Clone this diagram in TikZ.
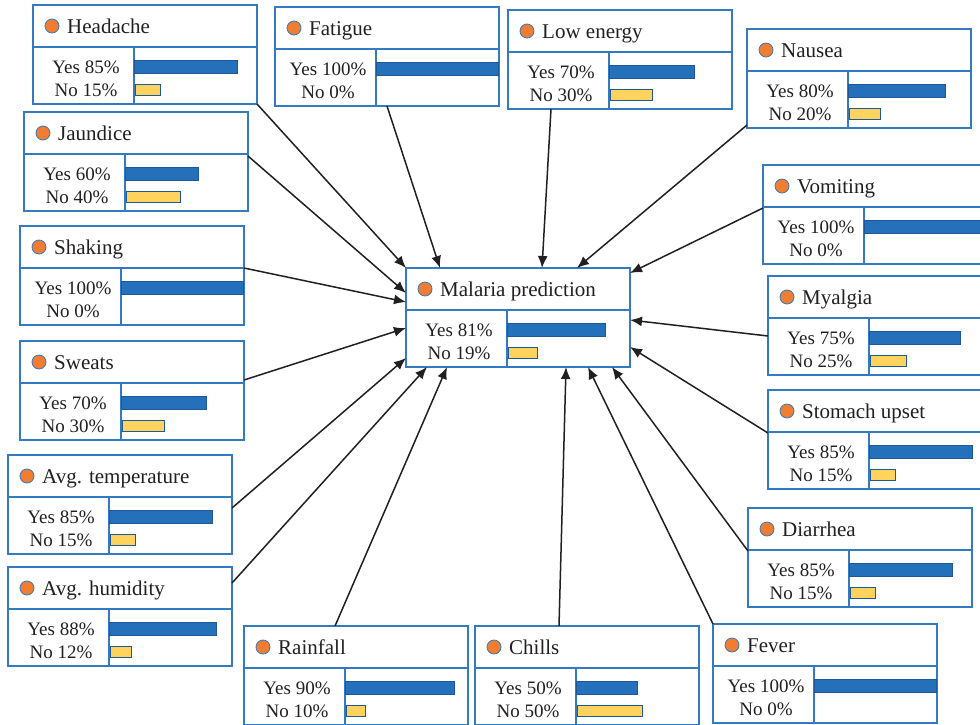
\documentclass[tikz,border=0pt]{standalone}
\usepackage{fontspec}
\setmainfont{Liberation Serif}
\usepackage{xcolor}
\usepackage{tikz}
\usetikzlibrary{arrows.meta, positioning}

\definecolor{boxblue}{RGB}{52,122,192}
\definecolor{baryes}{RGB}{36,112,186}
\definecolor{baryesline}{RGB}{30,88,150}
\definecolor{barno}{RGB}{255,211,94}
\definecolor{dotorange}{RGB}{240,125,50}
\definecolor{inkgray}{RGB}{35,31,32}

% #1 name, #2 x, #3 y (top left), #4 title, #5 yes, #6 no
\newcommand{\factorbox}[6]{%
  \node[factor] (#1) at (#2,#3) {};
  \draw[border] ([yshift=-42pt]#1.north west) -- ([yshift=-42pt]#1.north east);
  \draw[border] ([xshift=101pt,yshift=-42pt]#1.north west) -- ([xshift=101pt]#1.south west);
  \node[dot] (#1-dot) at ([xshift=19pt,yshift=-21pt]#1.north west) {};
  \node[ttl] (#1-ttl) at ([xshift=34pt,yshift=-28pt]#1.north west) {#4};
  \node[val] (#1-yes) at ([xshift=53pt,yshift=-68pt]#1.north west) {Yes #5\%};
  \node[val] (#1-no) at ([xshift=53pt,yshift=-91pt]#1.north west) {No #6\%};
  \ifnum#5>0 \draw[yesbar] ([xshift=101pt,yshift=-55pt]#1.north west) rectangle ++({#5*1.22pt},-13pt);\fi
  \ifnum#6>0 \draw[nobar] ([xshift=102pt,yshift=-79pt]#1.north west) rectangle ++({8pt+#6*1.15pt},-11pt);\fi
}

\begin{document}
\begin{tikzpicture}[x=1pt, y=-1pt,
    factor/.style={draw=boxblue, line width=1.1pt, rectangle, fill=white, anchor=north west,
      minimum width=224pt, minimum height=99pt, inner sep=0pt, outer sep=0pt},
    border/.style={draw=boxblue, line width=1.1pt},
    dot/.style={circle, draw=boxblue, line width=0.8pt, fill=dotorange, minimum size=14pt, inner sep=0pt},
    ttl/.style={anchor=base west, inner sep=0pt, text=inkgray, font=\fontsize{21}{25}\selectfont},
    val/.style={anchor=base, inner sep=0pt, text=inkgray, font=\fontsize{19}{23}\selectfont},
    yesbar/.style={fill=baryes, draw=baryesline, line width=0.8pt},
    nobar/.style={fill=barno, draw=baryesline, line width=0.8pt},
    arrow/.style={-{Latex[length=12pt,width=10pt]}, draw=inkgray, line width=1.5pt}]

  \useasboundingbox (0,0) rectangle (980,724);

  \factorbox{headache}{33}{5}{Headache}{85}{15}
  \factorbox{fatigue}{275}{7}{Fatigue}{100}{0}
  \factorbox{lowenergy}{508}{10}{Low energy}{70}{30}
  \factorbox{nausea}{747}{29}{Nausea}{80}{20}
  \factorbox{jaundice}{24}{112}{Jaundice}{60}{40}
  \factorbox{vomiting}{763}{165}{Vomiting}{100}{0}
  \factorbox{shaking}{20}{226}{Shaking}{100}{0}
  \factorbox{malaria}{406}{268}{Malaria prediction}{81}{19}
  \factorbox{myalgia}{768}{276}{Myalgia}{75}{25}
  \factorbox{sweats}{20}{341}{Sweats}{70}{30}
  \factorbox{stomach}{768}{390}{Stomach upset}{85}{15}
  \factorbox{avgtemp}{8}{455}{Avg. temperature}{85}{15}
  \factorbox{diarrhea}{748}{508}{Diarrhea}{85}{15}
  \factorbox{avghum}{8}{567}{Avg. humidity}{88}{12}
  \factorbox{rainfall}{244}{626}{Rainfall}{90}{10}
  \factorbox{chills}{475}{626}{Chills}{50}{50}
  \factorbox{fever}{713}{624}{Fever}{100}{0}

  \draw[arrow] (headache.south east) -- (malaria.north west);
  \draw[arrow] (fatigue.south) -- ([xshift=34pt]malaria.north west);
  \draw[arrow] ([xshift=43pt]lowenergy.south west) -- ([xshift=136pt]malaria.north west);
  \draw[arrow] ([yshift=3pt]nausea.south west) -- ([xshift=171pt]malaria.north west);
  \draw[arrow] ([yshift=-44pt]jaundice.north east) -- ([yshift=-25pt]malaria.north west);
  \draw[arrow] ([yshift=-43pt]vomiting.north west) -- ([yshift=-5pt]malaria.north east);
  \draw[arrow] ([yshift=-42pt]shaking.north east) -- ([yshift=-34pt]malaria.north west);
  \draw[arrow] ([yshift=-39pt]sweats.north east) -- ([yshift=-60pt]malaria.north west);
  \draw[arrow] ([yshift=-60pt]myalgia.north west) -- ([yshift=-52pt]malaria.north east);
  \draw[arrow] ([yshift=-53pt]avgtemp.north east) -- ([yshift=-90pt]malaria.north west);
  \draw[arrow] ([yshift=-43pt]stomach.north west) -- ([yshift=-79pt]malaria.north east);
  \draw[arrow] ([yshift=-16pt]avghum.north east) -- ([xshift=21pt]malaria.south west);
  \draw[arrow] ([xshift=91pt]rainfall.north west) -- ([xshift=41pt]malaria.south west);
  \draw[arrow] ([xshift=84pt]chills.north west) -- ([xshift=160pt]malaria.south west);
  \draw[arrow] ([yshift=-43pt]diarrhea.north west) -- ([xshift=206pt]malaria.south west);
  \draw[arrow] (fever.north west) -- ([xshift=182pt]malaria.south west);
\end{tikzpicture}
\end{document}
